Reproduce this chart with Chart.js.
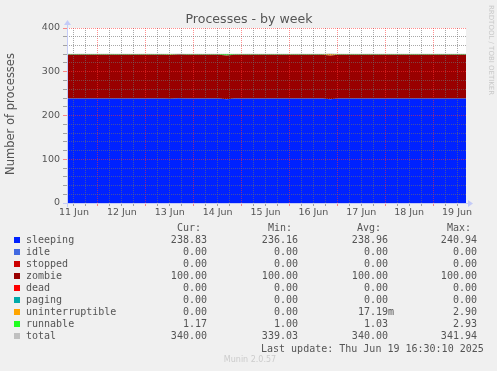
<!DOCTYPE html>
<html>
<head>
<meta charset="utf-8">
<script src="https://cdn.jsdelivr.net/npm/chart.js@4"></script>
<style>
  html, body { margin: 0; padding: 0; background: #f0f0f0; }
  #chart { display: block; }
</style>
</head>
<body>
<canvas id="chart" width="497" height="371"></canvas>
<script>
// hours since 11 Jun 00:00, one sample every 4h
const hours = [8.5,12.5,16.5,20.5,24.5,28.5,32.5,36.5,40.5,44.5,
  48.5,52.5,56.5,60.5,64.5,68.5,72.5,76.5,80.5,84.5,
  88.5,92.5,96.5,100.5,104.5,108.5,112.5,116.5,120.5,124.5,
  128.5,132.5,136.5,140.5,144.5,148.5,152.5,156.5,160.5,164.5,
  168.5,172.5,176.5,180.5,184.5,188.5,192.5,196.5,200.5,204.5,
  208.5]

const sleeping = [239.0,238.9,239.0,238.9,239.0,239.1,238.8,239.0,238.9,238.9,
  239.1,238.9,239.0,238.4,239.2,238.9,239.0,238.9,239.0,238.9,
  237.1,239.0,238.9,239.1,238.9,238.9,239.0,239.0,238.9,239.1,
  238.9,239.0,238.9,236.9,238.8,238.9,239.0,238.9,239.1,238.9,
  239.0,238.9,239.0,238.9,239.0,239.0,238.9,239.0,238.9,239.0,
  238.83]
const idle = Array(hours.length).fill(0)
const stopped = Array(hours.length).fill(0)
const zombie = Array(hours.length).fill(100)
const dead = Array(hours.length).fill(0)
const paging = Array(hours.length).fill(0)
const uninterruptible = [0,0,0,0,0,0,0,0,0,0,
  0,0,0,0.5,0,0,0,0,0,0,
  0,0,0,0,0,0,0,0,0,0,
  0,0,0,2.9,0,0,0,0,0,0,
  0,0,0,0,0,0,0,0,0,0,
  0]
const runnable = [1.0,1.0,1.1,1.0,1.0,1.0,1.2,1.0,1.0,1.0,
  1.0,1.0,1.0,1.1,1.0,1.0,1.0,1.0,1.0,1.0,
  2.93,1.0,1.0,1.0,1.0,1.1,1.0,1.0,1.0,1.0,
  1.0,1.0,1.0,1.0,1.2,1.0,1.0,1.0,1.0,1.0,
  1.0,1.0,1.0,1.0,1.0,1.0,1.1,1.0,1.0,1.0,
  1.17]
const total = [340.0,339.9,340.1,339.9,340.0,340.1,340.0,340.0,339.9,339.9,
  340.1,339.9,340.0,340.0,340.2,339.9,340.0,339.9,340.0,339.9,
  340.0,340.0,339.9,340.1,339.9,340.0,340.0,340.0,339.9,340.1,
  339.9,340.0,339.9,340.8,340.0,339.9,340.0,339.9,340.1,339.9,
  340.0,339.9,340.0,339.9,340.0,340.0,340.0,340.0,339.9,340.0,
  340.0]

// legend table
const names = ["sleeping","idle","stopped","zombie","dead","paging","uninterruptible","runnable","total"]
const colors = ["#0022ff","#4169e1","#cc0000","#990000","#ff0000","#00aaaa","#ffa500","#22ff22","#c0c0c0"]
const curVals = ["238.83","0.00","0.00","100.00","0.00","0.00","0.00","1.17","340.00"]
const minVals = ["236.16","0.00","0.00","100.00","0.00","0.00","0.00","1.00","339.03"]
const avgVals = ["238.96","0.00","0.00","100.00","0.00","0.00","17.19m","1.03","340.00"]
const maxVals = ["240.94","0.00","0.00","100.00","0.00","0.00","2.90","2.93","341.94"]
const dayLabels = ["11 Jun","12 Jun","13 Jun","14 Jun","15 Jun","16 Jun","17 Jun","18 Jun","19 Jun"]

const areaSeries = [sleeping, idle, stopped, zombie, dead, paging, uninterruptible, runnable]

const datasets = areaSeries.map((vals, i) => ({
    label: names[i],
    data: vals.map((v, j) => ({x: hours[j], y: v})),
    backgroundColor: colors[i],
    borderWidth: 0,
    pointRadius: 0,
    tension: 0,
    fill: i === 0 ? "origin" : "-1",
    stack: "procs"
}))
datasets.push({
    label: "total",
    data: total.map((v, j) => ({x: hours[j], y: v})),
    borderColor: "#c0c0c0",
    borderWidth: 1,
    pointRadius: 0,
    tension: 0,
    fill: false,
    stack: "total"
})

const minorGrid = "rgba(110,110,110,0.6)"
const majorGrid = "rgba(255,50,50,0.55)"
const axisBlue = "#c4cbf7"
const txt = "#555555"

// background, title, legend table and the rrdtool decorations
const munin = {
    id: "munin",
    beforeDraw(chart) {
        const c = chart.ctx, a = chart.chartArea
        c.save()
        c.fillStyle = "#f0f0f0"
        c.fillRect(0, 0, chart.width, chart.height)
        c.fillStyle = "#ffffff"
        c.fillRect(a.left, a.top, a.right - a.left, a.bottom - a.top)
        c.restore()
    },
    afterDraw(chart) {
        const c = chart.ctx, a = chart.chartArea
        c.save()
        // axis lines + arrows
        c.strokeStyle = axisBlue
        c.fillStyle = axisBlue
        c.lineWidth = 1
        c.beginPath()
        c.moveTo(a.left - 4, a.bottom + 0.5)
        c.lineTo(a.right + 3, a.bottom + 0.5)
        c.moveTo(a.left + 0.5, a.bottom + 4)
        c.lineTo(a.left + 0.5, a.top - 4)
        c.stroke()
        c.beginPath()
        c.moveTo(a.right + 2, a.bottom - 3)
        c.lineTo(a.right + 7, a.bottom + 0.5)
        c.lineTo(a.right + 2, a.bottom + 4)
        c.fill()
        c.beginPath()
        c.moveTo(a.left - 3, a.top - 3)
        c.lineTo(a.left + 0.5, a.top - 8)
        c.lineTo(a.left + 4, a.top - 3)
        c.fill()

        // title
        c.fillStyle = txt
        c.font = "12.6px 'DejaVu Sans'"
        c.textAlign = "center"
        c.textBaseline = "alphabetic"
        c.fillText("Processes - by week", 249, 23)

        // y axis title
        c.save()
        c.translate(11, 114)
        c.rotate(-Math.PI / 2)
        c.font = "11.5px 'DejaVu Sans'"
        c.textBaseline = "middle"
        c.fillText("Number of processes", 0, 0)
        c.restore()

        // rrdtool watermark
        c.save()
        c.translate(491, 5)
        c.rotate(Math.PI / 2)
        c.font = "7px 'DejaVu Sans'"
        c.fillStyle = "#c8c8c8"
        c.textAlign = "left"
        c.textBaseline = "middle"
        c.fillText("RRDTOOL / TOBI OETIKER", 0, 0)
        c.restore()

        // legend table
        c.font = "10px 'DejaVu Sans Mono'"
        c.textBaseline = "middle"
        c.fillStyle = txt
        c.textAlign = "right"
        c.fillText("Cur:", 201, 228)
        c.fillText("Min:", 292, 228)
        c.fillText("Avg:", 381, 228)
        c.fillText("Max:", 471, 228)
        const cols = [[curVals, 213], [minVals, 304], [avgVals, 394], [maxVals, 483]]
        names.forEach((n, i) => {
            const y = 240 + i * 12
            c.fillStyle = colors[i]
            c.fillRect(14, y - 3, 6, 6)
            c.fillStyle = txt
            c.textAlign = "left"
            c.fillText(n, 26, y)
            c.textAlign = "right"
            for (const [vals, right] of cols) {
                const s = /\d$/.test(vals[i]) ? vals[i] + " " : vals[i]
                c.fillText(s, right, y)
            }
        })
        c.textAlign = "left"
        c.fillText("Last update: Thu Jun 19 16:30:10 2025", 261, 349)

        c.font = "8px 'DejaVu Sans'"
        c.fillStyle = "#cccccc"
        c.textAlign = "center"
        c.fillText("Munin 2.0.57", 250, 360)
        c.restore()
    }
}

const chart = new Chart(document.getElementById("chart").getContext("2d"), {
    type: "line",
    data: { datasets: datasets },
    options: {
        responsive: false,
        animation: false,
        events: [],
        layout: { padding: { left: 0, top: 28, right: 31, bottom: 148 } },
        plugins: { legend: { display: false }, tooltip: { enabled: false } },
        scales: {
            x: {
                type: "linear",
                min: 8.5,
                max: 208.5,
                afterBuildTicks: (scale) => {
                    const t = []
                    for (let h = 12; h <= 208; h += 6) t.push({ value: h })
                    scale.ticks = t
                },
                afterFit: (scale) => { scale.height = 20 },
                ticks: {
                    autoSkip: false,
                    maxRotation: 0,
                    padding: 1,
                    color: txt,
                    font: { family: "DejaVu Sans", size: 9.5 },
                    callback: (v) => (v % 24 === 12 ? dayLabels[(v - 12) / 24] : "")
                },
                grid: {
                    z: 1,
                    color: (ctx) => (ctx.tick && ctx.tick.value % 24 === 0 ? majorGrid : minorGrid),
                    tickLength: 3
                },
                border: { display: false, dash: [1, 1] }
            },
            y: {
                stacked: true,
                min: 0,
                max: 400,
                afterFit: (scale) => { scale.width = 67 },
                ticks: {
                    stepSize: 20,
                    autoSkip: false,
                    padding: 3,
                    color: txt,
                    font: { family: "DejaVu Sans", size: 9.5 },
                    callback: (v) => (v % 100 === 0 ? v : "")
                },
                grid: {
                    z: 1,
                    color: (ctx) => (ctx.tick && ctx.tick.value % 100 === 0 ? majorGrid : minorGrid),
                    tickLength: 4
                },
                border: { display: false, dash: [1, 1] }
            }
        }
    },
    plugins: [munin]
})
</script>
</body>
</html>
